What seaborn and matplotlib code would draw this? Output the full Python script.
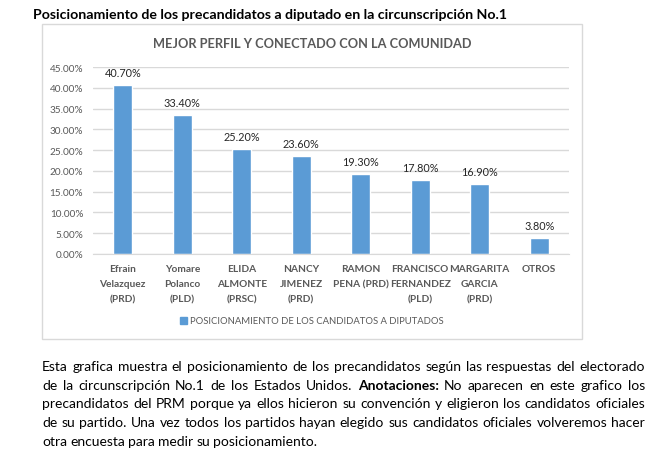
import matplotlib
matplotlib.use("Agg")
import matplotlib.pyplot as plt
import seaborn as sns
import pandas as pd
from matplotlib.patches import Rectangle, Patch

# data
candidatos = ["Efrain\nVelazquez\n(PRD)", "Yomare\nPolanco\n(PLD)", "ELIDA\nALMONTE\n(PRSC)",
              "NANCY\nJIMENEZ\n(PRD)", "RAMON\nPENA (PRD)", "FRANCISCO\nFERNANDEZ\n(PLD)",
              "MARGARITA\nGARCIA\n(PRD)", "OTROS"]
porcentajes = [40.7, 33.4, 25.2, 23.6, 19.3, 17.8, 16.9, 3.8]
y_ticks = [0, 5, 10, 15, 20, 25, 30, 35, 40, 45]

titulo = "Posicionamiento de los precandidatos a diputado en la circunscripción No.1"
titulo_grafico = "MEJOR PERFIL Y CONECTADO CON LA COMUNIDAD"
leyenda = "POSICIONAMIENTO DE LOS CANDIDATOS A DIPUTADOS"
parrafo = [
    "Esta grafica muestra el posicionamiento de los precandidatos según las respuestas del electorado",
    "de la circunscripción No.1 de los Estados Unidos.  *Anotaciones:*  No aparecen en este grafico los",
    "precandidatos del PRM porque ya ellos hicieron su convención y eligieron los candidatos oficiales",
    "de su partido. Una vez todos los partidos hayan elegido sus candidatos oficiales volveremos hacer",
    "otra encuesta para medir su posicionamiento.",
]

sns.set_style("white")
plt.rcParams["font.family"] = ["Lato", "DejaVu Sans"]

W, H = 666, 460
fig = plt.figure(figsize=(W / 100, H / 100), dpi=100)


def fx(px):
    return px / W


def fy(py):
    return 1 - py / H


BLUE = "#5B9BD5"
GRAY = "#595959"

# chart frame
fig.patches.append(Rectangle((fx(42), fy(340)), fx(582) - fx(42), fy(25) - fy(340),
                             transform=fig.transFigure, fill=False,
                             edgecolor="#D9D9D9", linewidth=1))

ax = fig.add_axes([fx(93), fy(255), fx(569) - fx(93), fy(68) - fy(255)])
df = pd.DataFrame({"candidato": candidatos, "valor": [v / 100 for v in porcentajes]})
sns.barplot(data=df, x="candidato", y="valor", color=BLUE, width=0.32,
            saturation=1, ax=ax)

ax.set_ylim(0, 0.45)
ax.set_yticks([t / 100 for t in y_ticks])
ax.set_yticklabels([f"{t:.2f}%" for t in y_ticks], color=GRAY, fontsize=7.2)
ax.tick_params(axis="y", length=0, pad=7)
ax.tick_params(axis="x", length=0, pad=7.5)
ax.set_xticks(range(len(candidatos)))
ax.set_xticklabels(candidatos, color=GRAY, fontsize=7.3, fontweight="bold", va="top")
for lbl in ax.get_xticklabels():
    lbl.set_linespacing(1.85)
ax.set_xlabel("")
ax.set_ylabel("")
ax.grid(axis="y", color="#D9D9D9", linewidth=1)
ax.set_axisbelow(True)
for s in ["top", "right", "left"]:
    ax.spines[s].set_visible(False)
ax.spines["bottom"].set_color("#D9D9D9")

for i, v in enumerate(porcentajes):
    ax.annotate(f"{v:.2f}%", (i, v / 100), xytext=(0, 5), textcoords="offset points",
                ha="center", va="bottom", fontsize=7.8, color="#262626")

fig.text(fx(312), fy(44), titulo_grafico, ha="center", va="center",
         fontsize=9.2, fontweight="bold", color=GRAY)

# legend
ax.legend(handles=[Patch(color=BLUE, label=leyenda)], loc="center",
          bbox_to_anchor=(fx(312), fy(322)), bbox_transform=fig.transFigure,
          frameon=False, handlelength=0.7, handleheight=0.7, handletextpad=0.3,
          fontsize=6.8, labelcolor=GRAY)

fig.text(fx(33), fy(15), titulo, ha="left", va="center", fontsize=10.2,
         fontweight="bold", color="black")

# justified paragraph below the chart
renderer = fig.canvas.get_renderer()
left, right = 42, 645
line_y = [367, 386, 404, 423, 442]
for n, (linea, yy) in enumerate(zip(parrafo, line_y)):
    palabras = linea.replace("  ", " ").split(" ")
    objs = []
    for p in palabras:
        bold = p.startswith("*")
        t = fig.text(0, fy(yy), p.strip("*"), ha="left", va="center", fontsize=10,
                     fontweight="bold" if bold else "normal", color="black")
        objs.append(t)
    widths = [t.get_window_extent(renderer).width for t in objs]
    if n < len(parrafo) - 1:
        gap = (right - left - sum(widths)) / (len(objs) - 1)
    else:
        gap = 3.2
    x = left
    for t, w in zip(objs, widths):
        t.set_x(fx(x))
        x += w + gap

fig.savefig("out.png", dpi=100)
